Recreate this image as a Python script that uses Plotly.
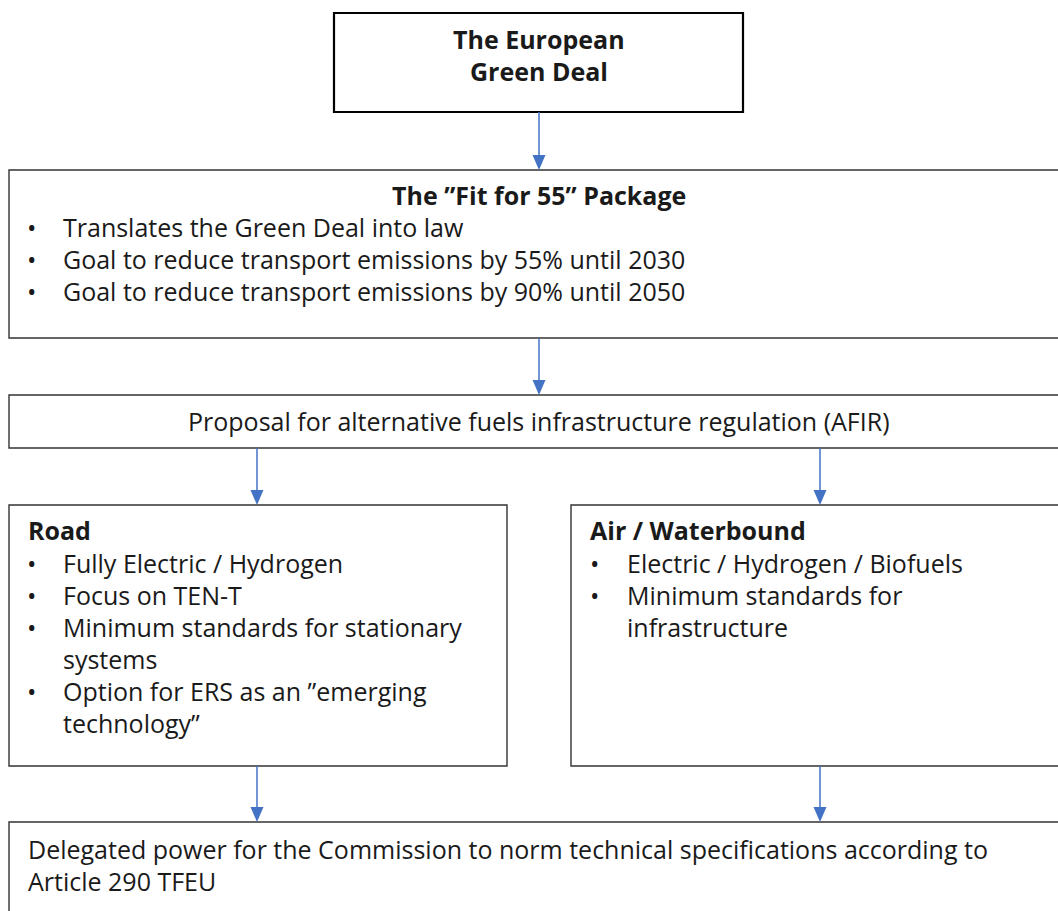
import plotly.graph_objects as go

W, H = 1058, 911
FONT = "Open Sans"
FS = 25
TXT = "#1a1a1a"
ARROW = "#4472C4"

# ---- content ----
top_title = ["The European", "Green Deal"]
fit_title = "The \u201dFit for 55\u201d Package"
fit_bullets = ["Translates the Green Deal into law",
               "Goal to reduce transport emissions by 55% until 2030",
               "Goal to reduce transport emissions by 90% until 2050"]
afir_text = "Proposal for alternative fuels infrastructure regulation (AFIR)"
road_title = "Road"
road_bullets = [["Fully Electric / Hydrogen"],
                ["Focus on TEN-T"],
                ["Minimum standards for stationary", "systems"],
                ["Option for ERS as an \u201demerging", "technology\u201d"]]
air_title = "Air / Waterbound"
air_bullets = [["Electric / Hydrogen / Biofuels"],
               ["Minimum standards for", "infrastructure"]]
bottom_lines = ["Delegated power for the Commission to norm technical specifications according to",
                "Article 290 TFEU"]

# ---- layout geometry (pixels) ----
boxes = {  # x0, y0, x1, y1
    "top": (334, 13, 743, 112),
    "fit": (9, 170, 1064, 338),
    "afir": (9, 395, 1064, 448),
    "road": (9, 505, 507, 766),
    "air": (571, 505, 1064, 766),
    "bottom": (9, 822, 1064, 920),
}
arrows = [(539, 112, 170), (539, 338, 395), (257, 448, 505), (820, 448, 505),
          (257, 766, 822), (820, 766, 822)]
LH = 32

fig = go.Figure()
shapes = []
annos = []

for k, (x0, y0, x1, y1) in boxes.items():
    shapes.append(dict(type="rect", x0=x0, y0=y0, x1=x1, y1=y1, xref="x", yref="y",
                       line=dict(color="#000000" if k == "top" else "#333333",
                                 width=2.2 if k == "top" else 1.4),
                       fillcolor="white", layer="below"))

for (x, ya, yb) in arrows:
    shapes.append(dict(type="line", x0=x, x1=x, y0=ya, y1=yb - 12, xref="x", yref="y",
                       line=dict(color=ARROW, width=1.5)))
    shapes.append(dict(type="path", path=f"M {x-6.5},{yb-15} L {x+6.5},{yb-15} L {x},{yb} Z",
                       xref="x", yref="y", fillcolor=ARROW, line=dict(width=0)))

def text(x, y, s, bold=False, anchor="left"):
    annos.append(dict(x=x, y=y, xref="x", yref="y", text=f"<b>{s}</b>" if bold else s,
                      showarrow=False, xanchor=anchor, yanchor="middle",
                      font=dict(family=FONT, size=FS, color=TXT)))

# top
for i, s in enumerate(top_title):
    text(539, 39 + i * LH, s, bold=True, anchor="center")
# fit for 55
text(539, 195, fit_title, bold=True, anchor="center")
for i, s in enumerate(fit_bullets):
    y = 227 + i * LH
    text(25, y, "\u2022")
    text(61, y, s)
# afir
text(539, 421, afir_text, anchor="center")

def bullet_box(x_title, x_bul, x_txt, title, bullets):
    text(x_title, 530, title, bold=True)
    y = 563
    for b in bullets:
        text(x_bul, y, "\u2022")
        for ln in b:
            text(x_txt, y, ln)
            y += LH

bullet_box(26, 25, 61, road_title, road_bullets)
bullet_box(588, 588, 625, air_title, air_bullets)

for i, s in enumerate(bottom_lines):
    text(26, 849 + i * LH, s)

fig.update_layout(
    width=W, height=H, margin=dict(l=0, r=0, t=0, b=0),
    paper_bgcolor="white", plot_bgcolor="white",
    xaxis=dict(range=[0, W], visible=False, fixedrange=True),
    yaxis=dict(range=[H, 0], visible=False, fixedrange=True),
    shapes=shapes, annotations=annos, showlegend=False,
)
fig.write_html("out.html", config={"displayModeBar": False},
               post_script="document.body.style.margin='0';document.body.style.overflow='hidden';")
